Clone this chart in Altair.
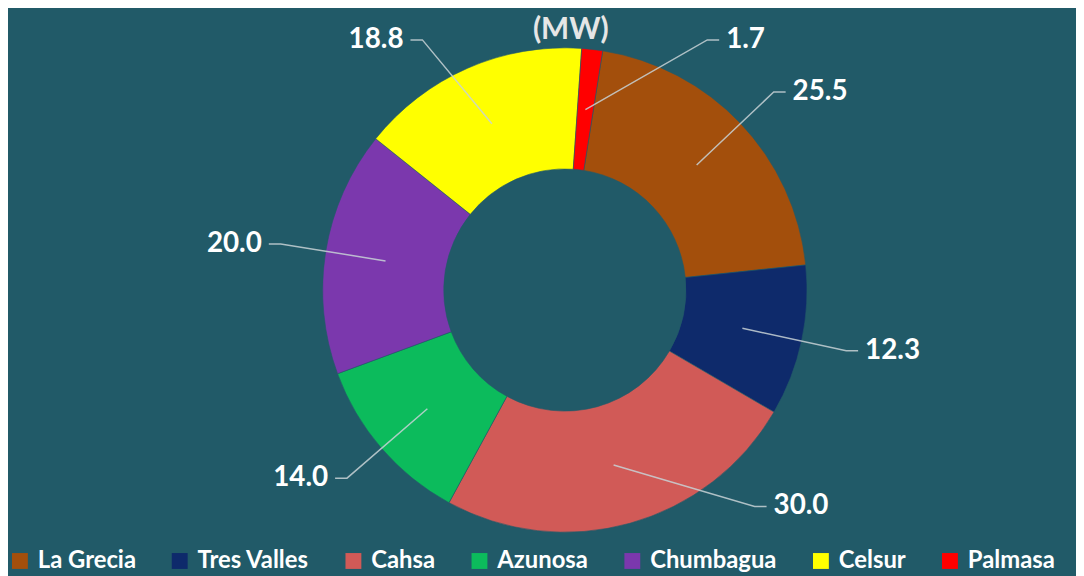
import math
import altair as alt
import pandas as pd

# ---- data ----
names = ["La Grecia", "Tres Valles", "Cahsa", "Azunosa", "Chumbagua", "Celsur", "Palmasa"]
values = [25.5, 12.3, 30.0, 14.0, 20.0, 18.8, 1.7]
colors = ["#A34F0C", "#0E2A6B", "#D15A57", "#0CBB5C", "#7B38AD", "#FFFF00", "#FF0000"]
title_text = "(MW)"

# ---- layout / style ----
W, H = 1076, 568
CX, CY = 561, 282
R_OUT, R_IN = 244, 122
ROT = math.radians(9)
R_LINE0 = (R_OUT + R_IN) / 2
R_LABEL = 290
Y_MIN, Y_MAX = 30, 500
BG = "#215A68"
FONT = "Lato"

df = pd.DataFrame({"name": names, "value": values, "idx": list(range(len(names)))})

# leader lines & labels derived from the slice angles
total = sum(values)
rows, lab_rows = [], []
cum = 0.0
for i, (n, v) in enumerate(zip(names, values)):
    a = ROT + 2 * math.pi * (cum + v / 2) / total
    cum += v
    sx, sy = CX + R_LINE0 * math.sin(a), CY - R_LINE0 * math.cos(a)
    lx, ly = CX + R_LABEL * math.sin(a), CY - R_LABEL * math.cos(a)
    side = 1 if math.sin(a) >= 0 else -1
    if ly < Y_MIN or ly > Y_MAX:
        ly = min(max(ly, Y_MIN), Y_MAX)
        lx = CX + side * math.sqrt(max(R_LABEL ** 2 - (ly - CY) ** 2, 0))
    ex = lx + side * 12
    for k, (px, py) in enumerate([(sx, sy), (lx, ly), (ex, ly)]):
        rows.append({"name": n, "k": k, "px": px, "py": py})
    lab_rows.append({"name": n, "label": f"{v:.1f}", "px": ex + side * 7, "py": ly, "side": side})

lines_df = pd.DataFrame(rows)
labels_df = pd.DataFrame(lab_rows)

xs = alt.Scale(domain=[0, W], nice=False, zero=False)
ys = alt.Scale(domain=[0, H], nice=False, zero=False, reverse=True)

arcs = alt.Chart(df).mark_arc(outerRadius=R_OUT, innerRadius=R_IN, stroke=BG, strokeWidth=0.6).encode(
    theta=alt.Theta("value:Q", stack=True, scale=alt.Scale(range=[ROT, ROT + 2 * math.pi])),
    color=alt.Color(
        "name:N",
        scale=alt.Scale(domain=names, range=colors),
        sort=names,
        legend=alt.Legend(
            orient="none", direction="horizontal", columns=7, legendX=0, legendY=543,
            title=None, symbolType="square", symbolSize=256, symbolStrokeWidth=0,
            labelFont=FONT, labelFontSize=24, labelFontWeight="bold", labelColor="#FFFFFF",
            labelOffset=6, columnPadding=32, labelLimit=300,
        ),
    ),
    order=alt.Order("idx:Q"),
    x=alt.value(CX),
    y=alt.value(CY),
)

leaders = alt.Chart(lines_df).mark_line(color="#C8D2D6", strokeWidth=1.5, opacity=0.85).encode(
    x=alt.X("px:Q", scale=xs, axis=None),
    y=alt.Y("py:Q", scale=ys, axis=None),
    detail="name:N",
    order="k:Q",
)

txt_right = alt.Chart(labels_df).transform_filter("datum.side > 0").mark_text(
    align="left", baseline="middle", font=FONT, fontSize=28, fontWeight="bold", color="#FFFFFF"
).encode(x=alt.X("px:Q", scale=xs, axis=None), y=alt.Y("py:Q", scale=ys, axis=None), text="label:N")

txt_left = alt.Chart(labels_df).transform_filter("datum.side < 0").mark_text(
    align="right", baseline="middle", font=FONT, fontSize=28, fontWeight="bold", color="#FFFFFF"
).encode(x=alt.X("px:Q", scale=xs, axis=None), y=alt.Y("py:Q", scale=ys, axis=None), text="label:N")

title = alt.Chart(pd.DataFrame({"t": [title_text]})).mark_text(
    align="center", baseline="middle", font=FONT, fontSize=30, fontWeight="bold", color="#E6E6E6"
).encode(text="t:N", x=alt.value(567), y=alt.value(20))

chart = alt.layer(arcs, leaders, txt_right, txt_left, title).properties(
    width=W, height=H, background=BG, padding=0
).configure_view(stroke=None)

chart.save("out.html", embed_options={"renderer": "svg", "actions": False})
